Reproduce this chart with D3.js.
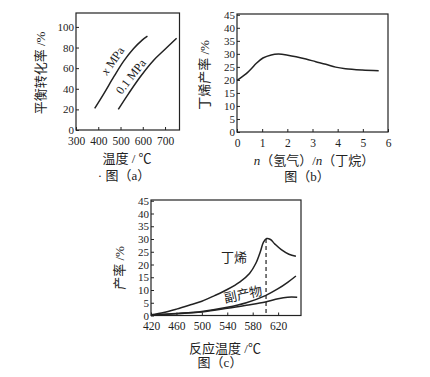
<!DOCTYPE html>
<html>
<head>
<meta charset="utf-8">
<script src="https://cdn.jsdelivr.net/npm/d3@7"></script>
<style>
  body { margin: 0; background: #fff; }
  svg { display: block; }
  .axis text { font-family: "Liberation Serif", "DejaVu Serif", serif; font-size: 11.5px; fill: #222; }
  .yaxis text { font-size: 11px; }
  .axis line { stroke: #222; stroke-width: 1; }
  .axis path { display: none; }
  .frame { fill: none; stroke: #222; stroke-width: 1.2; }
  .curve { fill: none; stroke: #222; stroke-width: 1.5; }
  .lab { font-family: "Liberation Serif", "Noto Sans CJK SC", serif; fill: #222; }
</style>
</head>
<body>
<div class="chart"></div>
<script>
/*
three small line charts: conversion vs temperature, butene yield vs H2 ratio, yield vs temperature
*/

// panel (a): equilibrium conversion
var aTicksX = [300, 400, 500, 600, 700];
var aTicksY = [0, 20, 40, 60, 80, 100];
var aHigh = [[384, 21], [426, 35.6], [470, 51.7], [515, 67], [559, 79], [596, 87], [621, 91]];
var aLow = [[490, 20], [537, 35.6], [589, 51.7], [648, 67.5], [700, 78.3], [752, 89]];

// panel (b): butene yield vs n(H2)/n(butane)
var bTicksX = [0, 1, 2, 3, 4, 5, 6];
var bTicksY = [0, 5, 10, 15, 20, 25, 30, 35, 40, 45];
var bYield = [[0, 19.8], [0.17, 21], [0.37, 22.4], [0.57, 24.3], [0.77, 26.4], [1.03, 28.4],
  [1.36, 29.6], [1.65, 29.9], [2.02, 29.5], [2.35, 28.9], [2.74, 28], [3.13, 27],
  [3.53, 26], [3.92, 24.9], [4.31, 24.3], [4.97, 23.8], [5.63, 23.5]];

// panel (c): yields vs reaction temperature
var cTicksX = [420, 460, 500, 540, 580, 620];
var cTicksY = [0, 5, 10, 15, 20, 25, 30, 35, 40, 45];
var cButene = [[420, 0.3], [440, 1.2], [460, 2.5], [480, 4], [500, 5.6], [520, 7.8], [540, 10.2],
  [560, 13.2], [575, 16.5], [585, 20.5], [592, 25], [597, 28.8], [602, 30.2], [608, 29.8],
  [615, 28], [625, 25.8], [637, 24], [648, 23.2]];
var cByHigh = [[420, 0.2], [460, 0.8], [500, 1.6], [540, 3.2], [570, 5], [600, 7.8], [620, 10.5], [635, 13], [648, 15.5]];
var cByLow = [[420, 0.2], [460, 0.7], [500, 1.4], [540, 2.8], [570, 4], [600, 5.3], [620, 6.6], [635, 7.2], [650, 7.2]];
var cPeakX = 601;

var svg = d3.select(".chart")
    .append("svg")
    .attr("width", 430)
    .attr("height", 377);

// draws frame, ticks and returns scales
function panel(box, xDom, yDom, ticksX, ticksY) {
  var x = d3.scaleLinear().domain(xDom).range([box.left, box.right]);
  var y = d3.scaleLinear().domain(yDom).range([box.bottom, box.top]);

  svg.append("g")
      .classed("axis", true)
      .attr("transform", "translate(0," + box.bottom + ")")
      .call(d3.axisBottom(x).tickValues(ticksX).tickSize(-3).tickPadding(6.5).tickFormat(d3.format("d")));

  svg.append("g")
      .classed("axis yaxis", true)
      .attr("transform", "translate(" + box.left + ",0)")
      .call(d3.axisLeft(y).tickValues(ticksY).tickSize(-3).tickPadding(2).tickFormat(d3.format("d")));

  svg.append("rect")
      .classed("frame", true)
      .attr("x", box.left)
      .attr("y", box.top)
      .attr("width", box.right - box.left)
      .attr("height", box.bottom - box.top);

  return {x: x, y: y};
}

function curve(s, data) {
  var line = d3.line()
      .x(function(d) { return s.x(d[0]); })
      .y(function(d) { return s.y(d[1]); })
      .curve(d3.curveCatmullRom);
  svg.append("path")
      .classed("curve", true)
      .attr("d", line(data));
}

function label(txt, x, y, size, rot) {
  var t = svg.append("text")
      .classed("lab", true)
      .attr("text-anchor", "middle")
      .style("font-size", size + "px")
      .attr("transform", "translate(" + x + "," + y + ")" + (rot ? " rotate(" + rot + ")" : ""));
  return t.text(txt);
}

// panel (a)
var sa = panel({left: 76, right: 179.5, top: 13, bottom: 130}, [300, 765], [0, 113.5], aTicksX, aTicksY);
curve(sa, aHigh);
curve(sa, aLow);
var ta = svg.append("text")
    .classed("lab", true)
    .attr("text-anchor", "middle")
    .style("font-size", "12px")
    .attr("transform", "translate(116,63) rotate(-55)");
ta.append("tspan").style("font-style", "italic").text("x");
ta.append("tspan").text(" MPa");
label("0.1 MPa", 134, 79, 12, -52);
label("平衡转化率 /%", 45, 73, 13, -90);
label("温度 / ℃", 127, 163, 13);
label("· 图（a）", 124, 180, 13);

// panel (b)
var sb = panel({left: 237, right: 388, top: 14, bottom: 132}, [0, 6], [0, 45.3], bTicksX, bTicksY);
curve(sb, bYield);
label("丁烯产率 /%", 209, 75, 13, -90);
var tb = svg.append("text")
    .classed("lab", true)
    .attr("text-anchor", "middle")
    .style("font-size", "13px")
    .attr("x", 314)
    .attr("y", 165);
tb.append("tspan").style("font-style", "italic").text("n");
tb.append("tspan").text("（氢气）/");
tb.append("tspan").style("font-style", "italic").text("n");
tb.append("tspan").text("（丁烷）");
label("图（b）", 307, 181, 13);

// panel (c)
var sc = panel({left: 151, right: 301, top: 200, bottom: 315.5}, [420, 656], [0, 45.3], cTicksX, cTicksY);
curve(sc, cButene);
curve(sc, cByHigh);
curve(sc, cByLow);
svg.append("line")
    .attr("x1", sc.x(cPeakX))
    .attr("x2", sc.x(cPeakX))
    .attr("y1", sc.y(30))
    .attr("y2", sc.y(0))
    .attr("stroke", "#222")
    .attr("stroke-width", 1.2)
    .attr("stroke-dasharray", "4,3");
label("丁烯", 234, 262, 13);
label("副产物", 244, 299, 13, -12);
label("产率 /%", 124, 268, 13, -90);
label("反应温度 /℃", 225, 353, 13);
label("图（c）", 220, 367, 13);
</script>
</body>
</html>
